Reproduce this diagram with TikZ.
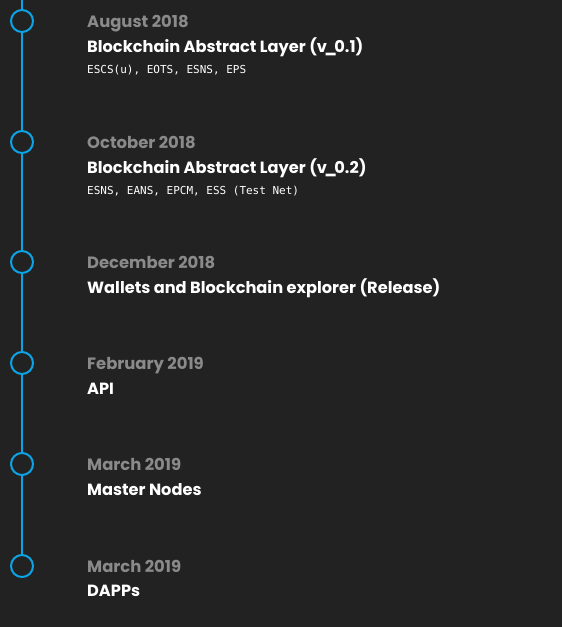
\documentclass[tikz,border=0pt]{standalone}
\usepackage{fontspec}
\setmainfont{Poppins}
\newfontfamily\titlefont{Poppins}[UprightFont=* SemiBold, BoldFont=* Bold]
\newfontfamily\monofont{DejaVu Sans Mono}
\definecolor{bg}{HTML}{222222}
\definecolor{tlblue}{HTML}{0BA4E6}
\definecolor{dategray}{HTML}{8A8A8A}
\newcommand{\usc}{\makebox[0.45em][c]{\_}}
\begin{document}
\begin{tikzpicture}[x=1pt,y=-1pt,
  dot/.style={circle,draw=tlblue,line width=2pt,fill=bg,minimum size=22pt,inner sep=0pt},
  datetext/.style={anchor=base west,inner sep=0pt,text=dategray,font=\titlefont\bfseries\fontsize{16.4}{18}\selectfont},
  titletext/.style={anchor=base west,inner sep=0pt,text=white,font=\titlefont\bfseries\fontsize{16.2}{19}\selectfont},
  monotext/.style={anchor=base west,inner sep=0pt,text=white,font=\monofont\fontsize{11}{13}\selectfont}]
\fill[bg] (0,0) rectangle (562,627);
\useasboundingbox (0,0) rectangle (562,627);
\coordinate (top) at (22,0);
\node[dot] (c1) at (22,21) {};
\node[dot] (c2) at (22,142) {};
\node[dot] (c3) at (22,262) {};
\node[dot] (c4) at (22,363) {};
\node[dot] (c5) at (22,464) {};
\node[dot] (c6) at (22,566) {};
\draw[tlblue,line width=2pt] (top) -- (c1) (c1) -- (c2) (c2) -- (c3) (c3) -- (c4) (c4) -- (c5) (c5) -- (c6);
\node[datetext] (d1) at (87,27) {August 2018};
\node[titletext] (t1) at (87,52) {Blockchain Abstract Layer (v\usc 0.1)};
\node[monotext] (m1) at (87,73) {ESCS(u), EOTS, ESNS, EPS};
\node[datetext] (d2) at (87,148) {October 2018};
\node[titletext] (t2) at (87,173) {Blockchain Abstract Layer (v\usc 0.2)};
\node[monotext] (m2) at (87,194) {ESNS, EANS, EPCM, ESS (Test Net)};
\node[datetext] (d3) at (87,268) {December 2018};
\node[titletext] (t3) at (87,293) {Wallets and Blockchain explorer (Release)};
\node[datetext] (d4) at (87,369) {February 2019};
\node[titletext] (t4) at (87,394) {API};
\node[datetext] (d5) at (87,470) {March 2019};
\node[titletext] (t5) at (87,495) {Master Nodes};
\node[datetext] (d6) at (87,572) {March 2019};
\node[titletext] (t6) at (87,596) {DAPPs};
\end{tikzpicture}
\end{document}
